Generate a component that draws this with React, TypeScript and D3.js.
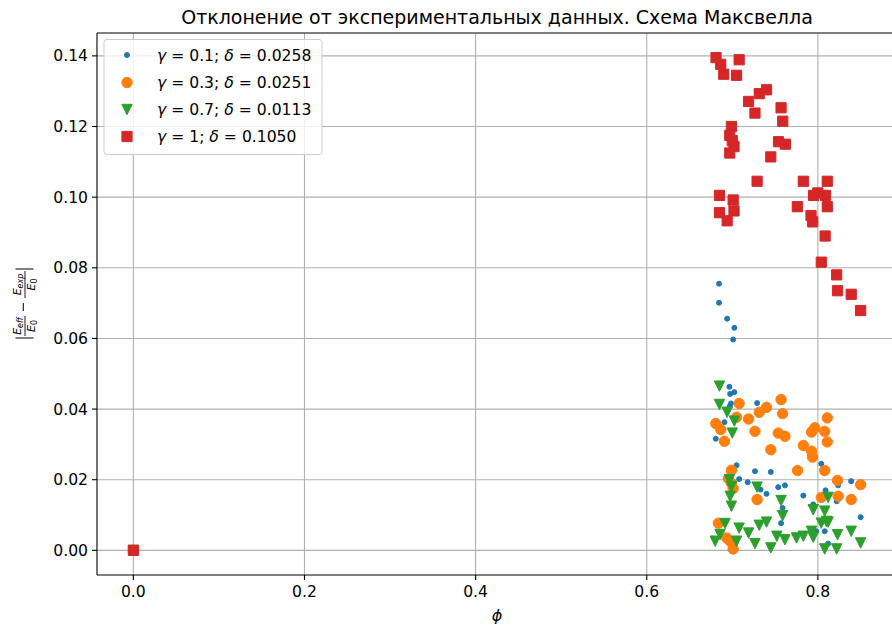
import React from "react";
import * as d3 from "d3";

// φ and |E_eff/E_0 − E_exp/E_0| for each γ
const seriesG01: [number, number][] = [
  [0, 0],
  [0.6845, 0.0755], [0.6845, 0.0701], [0.694, 0.0656], [0.7024, 0.063], [0.701, 0.0597],
  [0.6966, 0.0463], [0.7024, 0.0448], [0.6975, 0.0443], [0.6985, 0.0416], [0.697, 0.0408],
  [0.729, 0.0417], [0.6908, 0.0363], [0.6807, 0.0316],
  [0.705, 0.0241], [0.7265, 0.0224], [0.745, 0.0222], [0.708, 0.0202], [0.718, 0.0193],
  [0.7537, 0.0179], [0.7615, 0.0184], [0.74, 0.016], [0.733, 0.0172], [0.783, 0.0155],
  [0.804, 0.0245], [0.839, 0.0196], [0.809, 0.017], [0.8237, 0.0184], [0.822, 0.0139],
  [0.7588, 0.012], [0.757, 0.0077], [0.7946, 0.013], [0.85, 0.0094], [0.808, 0.0054],
  [0.798, 0.0054], [0.812, 0.0019],
];

const seriesG03: [number, number][] = [
  [0, 0],
  [0.757, 0.0427], [0.708, 0.0416], [0.74, 0.0405], [0.7315, 0.0391], [0.7588, 0.0387],
  [0.705, 0.0377], [0.719, 0.0372], [0.811, 0.0375], [0.6807, 0.0359], [0.6865, 0.0342],
  [0.7265, 0.0337], [0.6908, 0.0309], [0.7537, 0.0332], [0.7615, 0.0323], [0.7965, 0.0347],
  [0.7926, 0.0335], [0.808, 0.0337], [0.811, 0.0307], [0.745, 0.0285], [0.783, 0.0297],
  [0.7926, 0.0281], [0.7938, 0.0264], [0.7763, 0.0226], [0.808, 0.0226], [0.823, 0.0198],
  [0.85, 0.0186], [0.8237, 0.0153], [0.839, 0.0144], [0.804, 0.015], [0.729, 0.0144],
  [0.699, 0.0227], [0.6955, 0.0203], [0.699, 0.019], [0.701, 0.0175], [0.6838, 0.0077],
  [0.6935, 0.0035], [0.6975, 0.0026], [0.701, 0.0004],
];

const seriesG07: [number, number][] = [
  [0, 0],
  [0.685, 0.0465], [0.685, 0.0413], [0.694, 0.0391], [0.7024, 0.0366], [0.7, 0.0332],
  [0.6966, 0.02], [0.699, 0.0181], [0.6975, 0.0153], [0.699, 0.0125], [0.729, 0.0179],
  [0.757, 0.0141], [0.7588, 0.0098], [0.812, 0.015], [0.7946, 0.0115], [0.808, 0.0111],
  [0.81, 0.0082], [0.6915, 0.0076], [0.6857, 0.0045], [0.68, 0.0026], [0.705, 0.0026],
  [0.708, 0.0063], [0.719, 0.0049], [0.7265, 0.0019], [0.7315, 0.0071], [0.74, 0.008],
  [0.745, 0.0007], [0.752, 0.004], [0.7615, 0.003], [0.775, 0.0035], [0.783, 0.004],
  [0.7926, 0.0054], [0.7946, 0.0037], [0.808, 0.0004], [0.804, 0.0077], [0.812, 0.008],
  [0.823, 0.0044], [0.822, 0.0004], [0.839, 0.0054], [0.85, 0.0021],
];

const seriesG1: [number, number][] = [
  [0, 0],
  [0.681, 0.1395], [0.6865, 0.1376], [0.69, 0.1348], [0.708, 0.1389], [0.705, 0.1345],
  [0.719, 0.1271], [0.7315, 0.1293], [0.74, 0.1304], [0.7265, 0.1238], [0.757, 0.1253],
  [0.759, 0.1215], [0.754, 0.1157], [0.762, 0.115], [0.745, 0.1114], [0.699, 0.12],
  [0.697, 0.1175], [0.702, 0.1143], [0.697, 0.1125], [0.7, 0.116], [0.729, 0.1045],
  [0.685, 0.1005], [0.701, 0.0992], [0.685, 0.0956], [0.702, 0.0961], [0.694, 0.0933],
  [0.783, 0.1045], [0.811, 0.1045], [0.795, 0.1005], [0.8, 0.1012], [0.809, 0.1005],
  [0.776, 0.0973], [0.811, 0.0973], [0.792, 0.0948], [0.794, 0.093], [0.8085, 0.089],
  [0.804, 0.0816], [0.822, 0.078], [0.823, 0.0735], [0.839, 0.0725], [0.85, 0.0679],
];

const gammas = ["0.1", "0.3", "0.7", "1"];
const deltas = ["0.0258", "0.0251", "0.0113", "0.1050"];
const xTicks = [0.0, 0.2, 0.4, 0.6, 0.8];
const yTicks = [0.0, 0.02, 0.04, 0.06, 0.08, 0.1, 0.12, 0.14];

const title = "Отклонение от экспериментальных данных. Схема Максвелла";

const colors = ["#1f77b4", "#ff7f0e", "#2ca02c", "#d62728"];
const markers = ["point", "circle", "triangleDown", "square"];

const W = 892;
const H = 630;
const left = 97;
const right = 897;
const top = 33;
const bottom = 575;
const FONT = "DejaVu Sans, sans-serif";
const TICK_FS = 15.6;

function markerPath(kind: string): string {
  switch (kind) {
    case "point":
      return d3.symbol(d3.symbolCircle, Math.PI * 2.5 * 2.5)()!;
    case "circle":
      return d3.symbol(d3.symbolCircle, Math.PI * 5.2 * 5.2)()!;
    case "square":
      return d3.symbol(d3.symbolSquare, 10.2 * 10.2)()!;
    default: {
      const h = 5.2;
      return `M0,${h}L${-h},${-h}L${h},${-h}Z`;
    }
  }
}

export default function App() {
  const all = [seriesG01, seriesG03, seriesG07, seriesG1];
  const flat = all.flat();
  const [x0, x1] = d3.extent(flat, (d) => d[0]) as [number, number];
  const [y0, y1] = d3.extent(flat, (d) => d[1]) as [number, number];
  const px = (x1 - x0) * 0.05;
  const py = (y1 - y0) * 0.05;

  const x = d3.scaleLinear().domain([x0 - px, x1 + px]).range([left, right]);
  const y = d3.scaleLinear().domain([y0 - py, y1 + py]).range([bottom, top]);

  const fmtX = d3.format(".1f");
  const fmtY = d3.format(".2f");

  const legendRows = [55, 82.5, 109.5, 136.5];

  return (
    <svg
      width={W}
      height={H}
      style={{ position: "absolute", left: 0, top: 0, background: "#fff" }}
      fontFamily={FONT}
    >
      <rect x={0} y={0} width={W} height={H} fill="#fff" />
      <defs>
        <clipPath id="plotArea">
          <rect x={left} y={top} width={right - left} height={bottom - top} />
        </clipPath>
      </defs>

      {/* grid */}
      <g stroke="#b0b0b0" strokeWidth={1.1}>
        {xTicks.map((t) => (
          <line key={"gx" + t} x1={x(t)} x2={x(t)} y1={top} y2={bottom} />
        ))}
        {yTicks.map((t) => (
          <line key={"gy" + t} x1={left} x2={right} y1={y(t)} y2={y(t)} />
        ))}
      </g>

      {/* scatter series */}
      <g clipPath="url(#plotArea)">
        {all.map((s, i) => {
          const d = markerPath(markers[i]);
          return (
            <g key={"s" + i} fill={colors[i]} stroke={colors[i]} strokeWidth={1}>
              {s.map((p, j) => (
                <path key={j} d={d} transform={`translate(${x(p[0])},${y(p[1])})`} />
              ))}
            </g>
          );
        })}
      </g>

      {/* axes frame */}
      <g stroke="#000" strokeWidth={1.1} fill="none">
        <line x1={left} x2={left} y1={top} y2={bottom} />
        <line x1={left} x2={right} y1={bottom} y2={bottom} />
        <line x1={left} x2={right} y1={top} y2={top} />
        <line x1={right} x2={right} y1={top} y2={bottom} />
      </g>

      {/* x ticks */}
      {xTicks.map((t) => (
        <g key={"tx" + t}>
          <line x1={x(t)} x2={x(t)} y1={bottom} y2={bottom + 5} stroke="#000" strokeWidth={1.1} />
          <text x={x(t)} y={bottom + 22} fontSize={TICK_FS} textAnchor="middle" fill="#000">
            {fmtX(t)}
          </text>
        </g>
      ))}

      {/* y ticks */}
      {yTicks.map((t) => (
        <g key={"ty" + t}>
          <line x1={left - 5} x2={left} y1={y(t)} y2={y(t)} stroke="#000" strokeWidth={1.1} />
          <text x={left - 9} y={y(t) + 5.5} fontSize={TICK_FS} textAnchor="end" fill="#000">
            {fmtY(t)}
          </text>
        </g>
      ))}

      {/* title */}
      <text x={(left + right) / 2} y={24} fontSize={19} textAnchor="middle" fill="#000">
        {title}
      </text>

      {/* x label */}
      <text x={(left + right) / 2} y={621} fontSize={16} fontStyle="italic" textAnchor="middle" fill="#000">
        ϕ
      </text>

      {/* y label: |E_eff/E_0 − E_exp/E_0| */}
      <g transform={`translate(25,${(top + bottom) / 2}) rotate(-90)`} fill="#000" fontStyle="italic">
        <line x1={-34} x2={-34} y1={-9.5} y2={8.5} stroke="#000" strokeWidth={1} />
        <line x1={35} x2={35} y1={-9.5} y2={8.5} stroke="#000" strokeWidth={1} />
        {/* first fraction */}
        <text x={-22} y={-4.5} fontSize={11} textAnchor="middle">
          E<tspan fontSize={8} dy={2.5}>eff</tspan>
        </text>
        <line x1={-32} x2={-12} y1={0} y2={0} stroke="#000" strokeWidth={0.9} />
        <text x={-22} y={10} fontSize={11} textAnchor="middle">
          E<tspan fontSize={8} dy={2} fontStyle="normal">0</tspan>
        </text>
        {/* minus */}
        <line x1={-7} x2={1} y1={-1.7} y2={-1.7} stroke="#000" strokeWidth={1} />
        {/* second fraction */}
        <text x={19.5} y={-4.5} fontSize={11} textAnchor="middle">
          E<tspan fontSize={8} dy={2.5}>exp</tspan>
        </text>
        <line x1={6} x2={33} y1={0} y2={0} stroke="#000" strokeWidth={0.9} />
        <text x={19.5} y={10} fontSize={11} textAnchor="middle">
          E<tspan fontSize={8} dy={2} fontStyle="normal">0</tspan>
        </text>
      </g>

      {/* legend */}
      <rect
        x={104}
        y={39.5}
        width={218}
        height={115}
        rx={3}
        fill="#fff"
        fillOpacity={0.8}
        stroke="#cccccc"
        strokeWidth={1}
      />
      {gammas.map((g, i) => (
        <g key={"lg" + i}>
          <path
            d={markerPath(markers[i])}
            transform={`translate(127,${legendRows[i]})`}
            fill={colors[i]}
            stroke={colors[i]}
            strokeWidth={1}
          />
          <text x={157} y={legendRows[i] + 5.5} fontSize={TICK_FS} fill="#000">
            <tspan fontStyle="italic">γ</tspan>
            {` = ${g}; `}
            <tspan fontStyle="italic">δ</tspan>
            {` = ${deltas[i]}`}
          </text>
        </g>
      ))}
    </svg>
  );
}
